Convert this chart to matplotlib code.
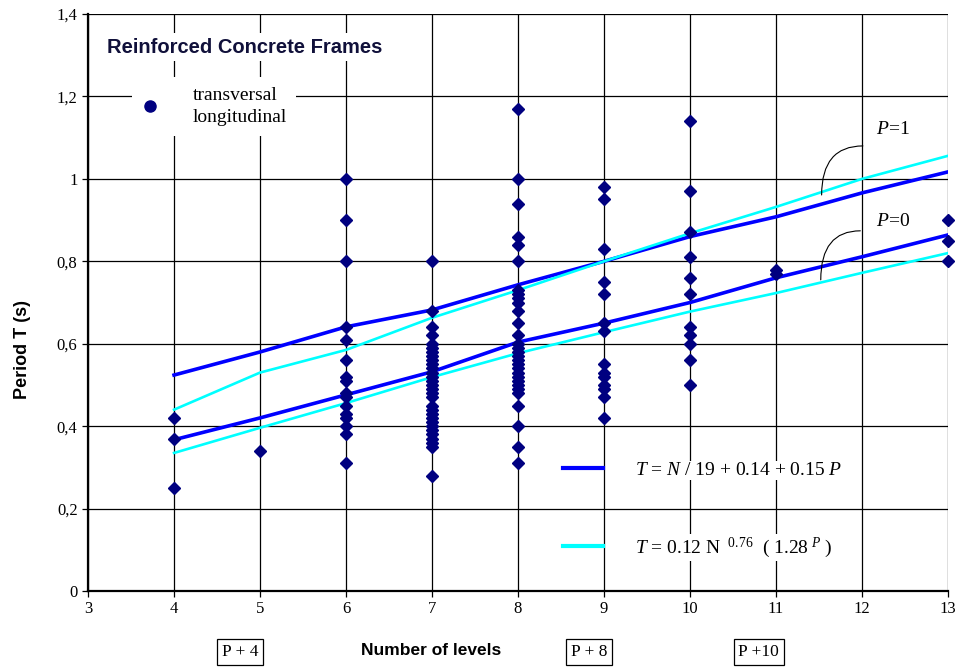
import matplotlib.pyplot as plt
from matplotlib.lines import Line2D
import numpy as np

plt.rcParams['mathtext.fontset'] = 'custom'
plt.rcParams['mathtext.rm'] = 'Liberation Serif'
plt.rcParams['mathtext.it'] = 'Liberation Serif:italic'

# measured periods, one list per number of levels
levels = [4, 5, 6, 7, 8, 9, 10, 11, 13]
periods = [
    [0.42, 0.37, 0.25],
    [0.34],
    [1.00, 0.90, 0.80, 0.64, 0.61, 0.56, 0.52, 0.51, 0.48, 0.47, 0.45, 0.43, 0.42, 0.40, 0.38, 0.31],
    [0.80, 0.68, 0.64, 0.62, 0.60, 0.59, 0.58, 0.57, 0.56, 0.55, 0.54, 0.53, 0.52, 0.51, 0.50,
     0.49, 0.48, 0.47, 0.45, 0.44, 0.43, 0.42, 0.41, 0.40, 0.39, 0.38, 0.37, 0.36, 0.35, 0.28],
    [1.17, 1.00, 0.94, 0.86, 0.84, 0.80, 0.73, 0.72, 0.71, 0.70, 0.68, 0.65, 0.62, 0.60, 0.59,
     0.58, 0.57, 0.56, 0.55, 0.54, 0.53, 0.52, 0.51, 0.50, 0.49, 0.48, 0.45, 0.40, 0.35, 0.31],
    [0.98, 0.95, 0.83, 0.75, 0.72, 0.65, 0.63, 0.55, 0.53, 0.52, 0.50, 0.49, 0.47, 0.42],
    [1.14, 0.97, 0.87, 0.81, 0.76, 0.72, 0.64, 0.62, 0.60, 0.56, 0.50],
    [0.78, 0.77],
    [0.90, 0.85, 0.80],
]

# fitted curves
n_fit = [4, 5, 6, 7, 8, 9, 10, 11, 12, 13]
lin_p1 = [0.524, 0.58, 0.641, 0.682, 0.743, 0.80, 0.86, 0.908, 0.966, 1.017]
lin_p0 = [0.367, 0.42, 0.476, 0.532, 0.604, 0.65, 0.70, 0.76, 0.811, 0.864]
pow_p1 = [0.44, 0.53, 0.585, 0.663, 0.73, 0.80, 0.868, 0.932, 1.00, 1.056]
pow_p0 = [0.335, 0.396, 0.456, 0.519, 0.577, 0.628, 0.678, 0.723, 0.772, 0.82]

yticks = [0, 0.2, 0.4, 0.6, 0.8, 1.0, 1.2, 1.4]
ytick_labels = ['0', '0,2', '0,4', '0,6', '0,8', '1', '1,2', '1,4']

navy = '#000080'
blue = '#0000ff'
cyan = '#00ffff'
serif = 'Liberation Serif'
sans = 'Liberation Sans'

fig = plt.figure(figsize=(9.58, 6.69), dpi=100)
ax = fig.add_axes([0.0919, 0.1166, 0.8977, 0.8624])

ax.plot(n_fit, lin_p1, color=blue, lw=2.6, zorder=3)
ax.plot(n_fit, lin_p0, color=blue, lw=2.6, zorder=3)
ax.plot(n_fit, pow_p1, color=cyan, lw=1.9, zorder=3)
ax.plot(n_fit, pow_p0, color=cyan, lw=1.9, zorder=3)

for n, ps in zip(levels, periods):
    ax.plot([n] * len(ps), ps, linestyle='none', marker='D', ms=6.5,
            color=navy, zorder=4, clip_on=False)

ax.set_xlim(3, 13)
ax.set_ylim(0, 1.4)
ax.set_xticks(range(3, 14))
ax.set_yticks(yticks)
ax.set_yticklabels(ytick_labels)
ax.grid(True, color='black', lw=0.9)
ax.set_axisbelow(True)
for s in ['top', 'right']:
    ax.spines[s].set_visible(False)
for s in ['left', 'bottom']:
    ax.spines[s].set_linewidth(1.6)
ax.tick_params(axis='both', length=4, width=0.9, labelsize=12)
ax.tick_params(axis='x', pad=3)
for lab in ax.get_xticklabels() + ax.get_yticklabels():
    lab.set_fontfamily(serif)

ax.set_xlabel('Number of levels', fontfamily=sans, fontweight='bold', fontsize=12.5)
ax.set_ylabel('Period T (s)', fontfamily=sans, fontweight='bold', fontsize=13)
ax.xaxis.set_label_coords(0.399, -0.104)
ax.yaxis.set_label_coords(-0.076, 0.418)
ax.xaxis.label.set_va('center')
ax.yaxis.label.set_va('center')

# boxed notes under the x axis
for x, s in [(4.77, 'P + 4'), (8.83, 'P + 8'), (10.8, 'P +10')]:
    ax.text(x, -0.148, s, fontfamily=serif, fontsize=12.5, ha='center', va='center',
            bbox=dict(fc='white', ec='black', lw=0.9, pad=3.5), clip_on=False)

ax.text(3.22, 1.32, 'Reinforced Concrete Frames', fontfamily=sans, fontweight='bold',
        fontsize=14.5, color='#10103a', va='center',
        bbox=dict(fc='white', ec='none', pad=3))

leg1 = ax.legend(handles=[Line2D([], [], ls='none', marker='o', ms=8, color=navy)],
                 labels=['transversal\nlongitudinal'], loc='upper left',
                 bbox_to_anchor=(0.04, 0.908), frameon=True, facecolor='white',
                 edgecolor='none', framealpha=1, fancybox=False,
                 prop={'family': serif, 'size': 14},
                 handlelength=0.8, handletextpad=1.8, borderpad=0.5)
for t in leg1.get_texts():
    t.set_linespacing(1.45)
ax.add_artist(leg1)

leg2 = ax.legend(handles=[Line2D([], [], color=blue, lw=3),
                          Line2D([], [], color=cyan, lw=3)],
                 labels=[r'$T$ = $N$ / 19 + 0.14 + 0.15 $P$',
                         r'$T$ = 0.12 N $^{\ 0.76}$  ( 1.28$^{\ P}$ )'],
                 loc='upper left', bbox_to_anchor=(0.532, 0.255), frameon=False,
                 prop={'family': serif, 'size': 14}, handlelength=2.06,
                 handletextpad=1.65, labelspacing=2.9)
for t in leg2.get_texts():
    t.set_bbox(dict(fc='white', ec='none', pad=1))

# P labels with curved leaders
for txt, start, end, pos in [(r'$P$=1', (11.53, 0.961), (12.01, 1.08), (12.36, 1.12)),
                             (r'$P$=0', (11.52, 0.755), (11.98, 0.874), (12.36, 0.896))]:
    ax.annotate('', xy=start, xytext=end,
                arrowprops=dict(arrowstyle='-', color='black', lw=0.8,
                                connectionstyle='angle3,angleA=0,angleB=90',
                                shrinkA=0, shrinkB=0))
    ax.text(pos[0], pos[1], txt, fontfamily=serif, fontsize=14, ha='center', va='center')

fig.savefig('out.png', dpi=100)
